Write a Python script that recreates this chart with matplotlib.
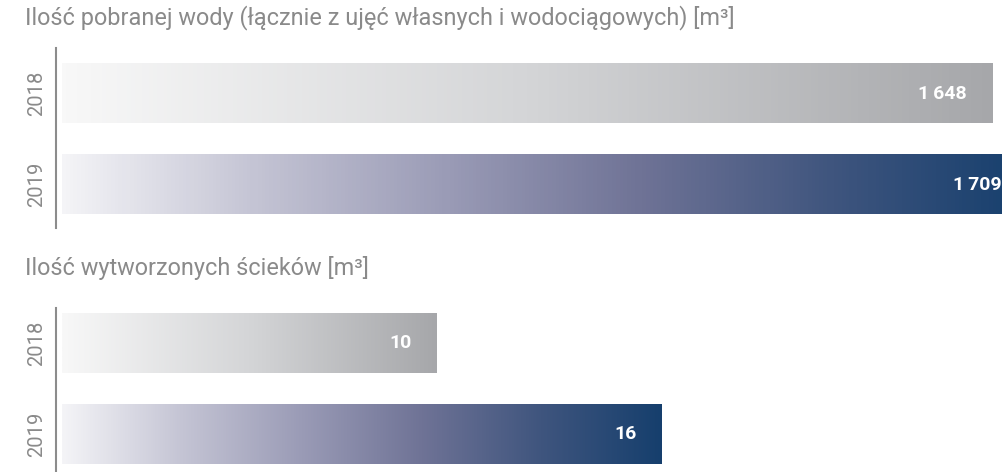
import numpy as np
import matplotlib.pyplot as plt
from matplotlib.colors import LinearSegmentedColormap

plt.rcParams['font.family'] = ['Roboto', 'DejaVu Sans']

# Water intake and wastewater, 2018 vs 2019
years = ['2018', '2019']
water = [1648, 1709]
sewage = [10, 16]
water_title = 'Ilość pobranej wody (łącznie z ujęć własnych i wodociągowych) [m³]'
sewage_title = 'Ilość wytworzonych ścieków [m³]'

text_gray = '#8a8a8a'
cmap_gray = LinearSegmentedColormap.from_list('g', ['#f8f8f8', '#d4d5d7', '#a6a7aa'])
cmap_navy = LinearSegmentedColormap.from_list(
    'n', ['#f4f4f7', '#c4c4d4', '#9a9bb6', '#6f7396', '#3f557e', '#163f6d'])
cmaps = [cmap_gray, cmap_navy]

W, H = 1002, 472
fig = plt.figure(figsize=(W / 100, H / 100), dpi=100)

grad = np.linspace(0, 1, 256).reshape(1, -1)


def panel(rect, values, xmax, ylim, title, title_y):
    ax = fig.add_axes(rect)
    for i, v in enumerate(values):
        h = 0.65
        # horizontal gradient bar, light on the left
        ax.imshow(grad, cmap=cmaps[i], aspect='auto',
                  extent=(0, v, i + h / 2, i - h / 2), zorder=2)
        ax.text(v - xmax * 25 / 940, i, f'{v:,}'.replace(',', '\u2009'),
                color='white', ha='right', va='center', fontsize=14,
                fontweight='bold', zorder=3)
        ax.text(-xmax * 25 / 940, i, years[i], rotation=90, ha='center',
                va='center', color=text_gray, fontsize=14.5)
    ax.set_xlim(0, xmax)
    ax.set_ylim(*ylim)
    for s in ['top', 'right', 'bottom']:
        ax.spines[s].set_visible(False)
    ax.spines['left'].set_position(('outward', 4))
    ax.spines['left'].set_color('#8c8c8c')
    ax.spines['left'].set_linewidth(1.5)
    ax.set_xticks([])
    ax.set_yticks([])
    fig.text(25 / W, title_y, title, color=text_gray, fontsize=16.9, va='center')
    return ax


panel([62 / W, (H - 228) / H, 940 / W, 180 / H], water, 1665.7, (1.478, -0.5),
      water_title, 1 - 18 / H)
panel([62 / W, 0, 940 / W, 164 / H], sewage, 25.07, (1.418, -0.385),
      sewage_title, 1 - 268 / H)

fig.savefig('out.png', dpi=100)
